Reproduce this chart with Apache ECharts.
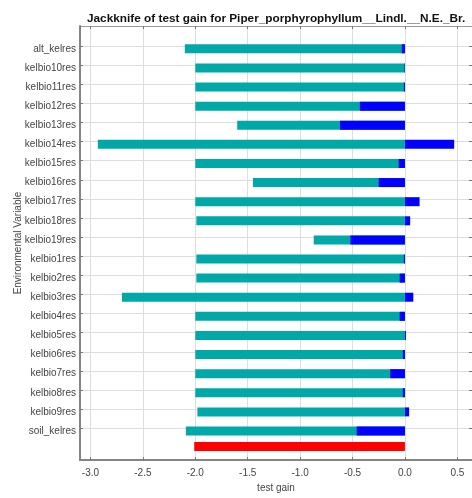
<!DOCTYPE html>
<html>
<head>
<meta charset="utf-8">
<script src="https://cdn.jsdelivr.net/npm/echarts@6/dist/echarts.min.js"></script>
<style>
html,body{margin:0;padding:0;background:#fff;}
#chart{width:472px;height:498px;}
</style>
</head>
<body>
<div id="chart"></div>
<script>
const titleText = 'Jackknife of test gain for Piper_porphyrophyllum__Lindl.__N.E._Br.';
const categories = ['alt_kelres','kelbio10res','kelbio11res','kelbio12res','kelbio13res','kelbio14res','kelbio15res','kelbio16res','kelbio17res','kelbio18res','kelbio19res','kelbio1res','kelbio2res','kelbio3res','kelbio4res','kelbio5res','kelbio6res','kelbio7res','kelbio8res','kelbio9res','soil_kelres'];
const withoutGain = [-2.10,-2.00,-2.00,-2.00,-1.60,-2.93,-2.00,-1.45,-2.00,-1.99,-0.87,-1.99,-1.99,-2.70,-2.00,-2.00,-2.00,-2.00,-2.00,-1.98,-2.09];
const onlyGain = [-0.03,-0.005,-0.01,-0.43,-0.62,0.47,-0.06,-0.25,0.14,0.05,-0.52,-0.01,-0.05,0.08,-0.05,0.01,-0.02,-0.14,-0.02,0.04,-0.46];
const allGain = [-2.01];
const xMin = -3.1, xMax = 0.64;

const FONT = "'Liberation Sans', Arial, sans-serif";
const L = 80, W = 394.2;
function hx(gi){ return {type:'value', gridIndex:gi, min:xMin, max:xMax, show:false}; }

const chart = echarts.init(document.getElementById('chart'), null, {renderer:'canvas'});
chart.setOption({
  animation:false,
  backgroundColor:'#fff',
  title:{text:titleText, left:82, top:8, textStyle:{fontFamily:FONT, fontSize:11.8, fontWeight:'bold', color:'#111'}},
  grid:[
    {left:L, top:26, width:W, height:441},
    {left:L, top:46, width:W, height:382.2},
    {left:L, top:39.25, width:W, height:401.3},
    {left:L, top:437, width:W, height:19}
  ],
  xAxis:[
    {type:'value', gridIndex:0, position:'bottom', min:xMin, max:xMax, splitNumber:7,
     axisLine:{onZero:false, lineStyle:{color:'#858585', width:2}},
     axisTick:{inside:true, length:3, lineStyle:{color:'#777'}},
     axisLabel:{showMinLabel:false, showMaxLabel:false, margin:8, fontFamily:FONT, fontSize:10, color:'#444',
       formatter:v=>v.toFixed(1)},
     splitLine:{show:true, lineStyle:{color:'#dedede', width:1}},
     name:'test gain', nameLocation:'middle', nameGap:20, nameTextStyle:{fontFamily:FONT, fontSize:10, color:'#444'}},
    {type:'value', gridIndex:0, position:'top', min:xMin, max:xMax, splitNumber:7,
     axisLine:{onZero:false, lineStyle:{color:'#9a9a9a', width:1}},
     axisTick:{inside:true, length:3, lineStyle:{color:'#777'}},
     axisLabel:{show:false}, splitLine:{show:false}},
    hx(1), hx(2), hx(3)
  ],
  yAxis:[
    {type:'value', gridIndex:0, position:'left', min:0, max:1,
     axisLine:{show:true, onZero:false, lineStyle:{color:'#858585', width:2}},
     axisTick:{show:false}, axisLabel:{show:false}, splitLine:{show:false},
     name:'Environmental Variable', nameLocation:'middle', nameGap:57, nameRotate:90,
     nameTextStyle:{fontFamily:FONT, fontSize:10, color:'#444'}},
    {type:'category', gridIndex:1, position:'left', inverse:true, boundaryGap:false, data:categories,
     axisLine:{show:false, onZero:false}, axisTick:{show:true, inside:true, length:3, lineStyle:{color:'#777'}},
     axisLabel:{show:false}, splitLine:{show:true, lineStyle:{color:'#dedede', width:1}}},
    {type:'category', gridIndex:1, position:'right', inverse:true, boundaryGap:false, data:categories,
     axisLine:{show:false, onZero:false}, axisTick:{show:true, inside:true, length:3, lineStyle:{color:'#777'}},
     axisLabel:{show:false}, splitLine:{show:false}},
    {type:'category', gridIndex:2, position:'left', inverse:true, data:categories,
     axisLine:{show:false, onZero:false}, axisTick:{show:false}, splitLine:{show:false},
     axisLabel:{margin:4, fontFamily:FONT, fontSize:10, color:'#444'}},
    {type:'category', gridIndex:3, data:['all'], show:false}
  ],
  series:[
    {type:'bar', name:'Without variable', xAxisIndex:3, yAxisIndex:3, data:withoutGain, barWidth:9,
     itemStyle:{color:'#00a8a8'}},
    {type:'bar', name:'With only variable', xAxisIndex:3, yAxisIndex:3, data:onlyGain, barWidth:9, barGap:'-100%',
     itemStyle:{color:'#0000ff'}},
    {type:'bar', name:'With all variables', xAxisIndex:4, yAxisIndex:4, data:allGain, barWidth:9,
     itemStyle:{color:'#ff0000'}}
  ]
});
</script>
</body>
</html>
